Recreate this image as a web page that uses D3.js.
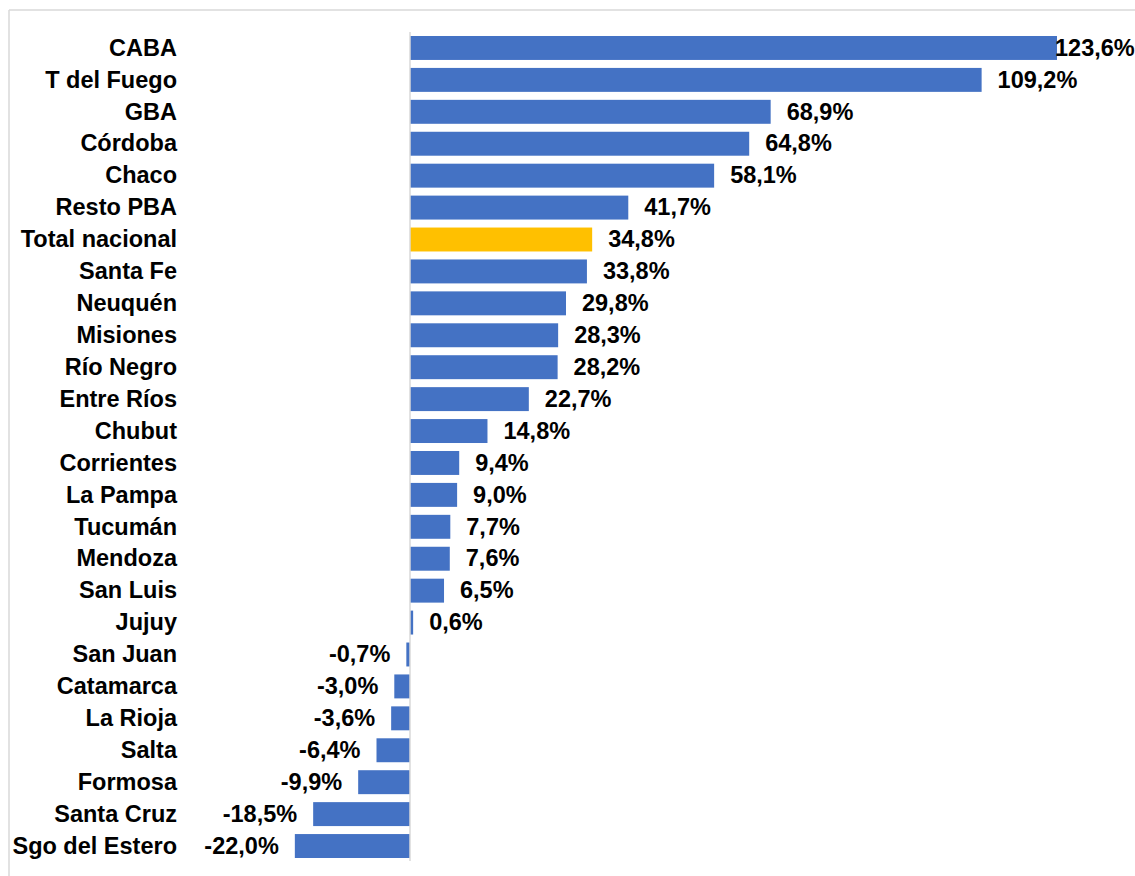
<!DOCTYPE html>
<html>
<head>
<meta charset="utf-8">
<script src="https://cdn.jsdelivr.net/npm/d3@7"></script>
<style>
  body { margin: 0; background: #fff; }
  text { font-family: 'Liberation Sans', Arial, sans-serif; font-weight: bold; fill: #000; }
</style>
</head>
<body>
<div id="chart"></div>
<script>
const provincias = ['CABA', 'T del Fuego', 'GBA', 'Córdoba', 'Chaco', 'Resto PBA', 'Total nacional',
  'Santa Fe', 'Neuquén', 'Misiones', 'Río Negro', 'Entre Ríos', 'Chubut', 'Corrientes', 'La Pampa',
  'Tucumán', 'Mendoza', 'San Luis', 'Jujuy', 'San Juan', 'Catamarca', 'La Rioja', 'Salta', 'Formosa',
  'Santa Cruz', 'Sgo del Estero']
const variacion = [123.6, 109.2, 68.9, 64.8, 58.1, 41.7, 34.8, 33.8, 29.8, 28.3, 28.2, 22.7, 14.8,
  9.4, 9.0, 7.7, 7.6, 6.5, 0.6, -0.7, -3.0, -3.6, -6.4, -9.9, -18.5, -22.0]
const destacado = 'Total nacional'

const width = 1135,
      height = 876

const data = provincias.map((p, i) => ({ name: p, value: variacion[i] }))

const svg = d3.select('#chart')
  .append('svg')
  .attr('width', width)
  .attr('height', height)

// chart area frame (top and left edges visible)
svg.append('line')
  .attr('x1', 9).attr('x2', width).attr('y1', 10).attr('y2', 10)
  .attr('stroke', '#d9d9d9').attr('stroke-width', 1.5)
svg.append('line')
  .attr('x1', 9).attr('x2', 9).attr('y1', 10).attr('y2', height)
  .attr('stroke', '#d9d9d9').attr('stroke-width', 1.5)

const x = d3.scaleLinear()
  .domain([0, 123.6])
  .range([410, 1057])

const y = d3.scaleBand()
  .domain(provincias)
  .range([36, 858])
  .paddingInner(0.25)
  .paddingOuter(0)

svg.selectAll('.bar')
  .data(data)
  .enter().append('rect')
  .attr('class', 'bar')
  .attr('x', d => x(Math.min(0, d.value)))
  .attr('width', d => Math.abs(x(d.value) - x(0)))
  .attr('y', d => y(d.name))
  .attr('height', y.bandwidth())
  .attr('fill', d => d.name === destacado ? '#ffc000' : '#4472c4')

// zero axis line
svg.append('line')
  .attr('x1', x(0)).attr('x2', x(0))
  .attr('y1', 32).attr('y2', 861)
  .attr('stroke', '#d9d9d9').attr('stroke-width', 1.5)

// category labels
svg.selectAll('.cat')
  .data(data)
  .enter().append('text')
  .attr('class', 'cat')
  .attr('x', 177)
  .attr('y', d => y(d.name) + y.bandwidth() / 2)
  .attr('dy', '0.33em')
  .attr('text-anchor', 'end')
  .style('font-size', '23.5px')
  .text(d => d.name)

const fmt = v => d3.format('.1f')(v).replace('.', ',').replace('−', '-') + '%'

// value labels
svg.selectAll('.val')
  .data(data)
  .enter().append('text')
  .attr('class', 'val')
  .attr('x', d => d.value >= 0 ? Math.min(x(d.value) + 16, width - 80) : x(d.value) - 16)
  .attr('y', d => y(d.name) + y.bandwidth() / 2)
  .attr('dy', '0.33em')
  .attr('text-anchor', d => d.value >= 0 ? 'start' : 'end')
  .style('font-size', '23.5px')
  .text(d => fmt(d.value))
</script>
</body>
</html>
